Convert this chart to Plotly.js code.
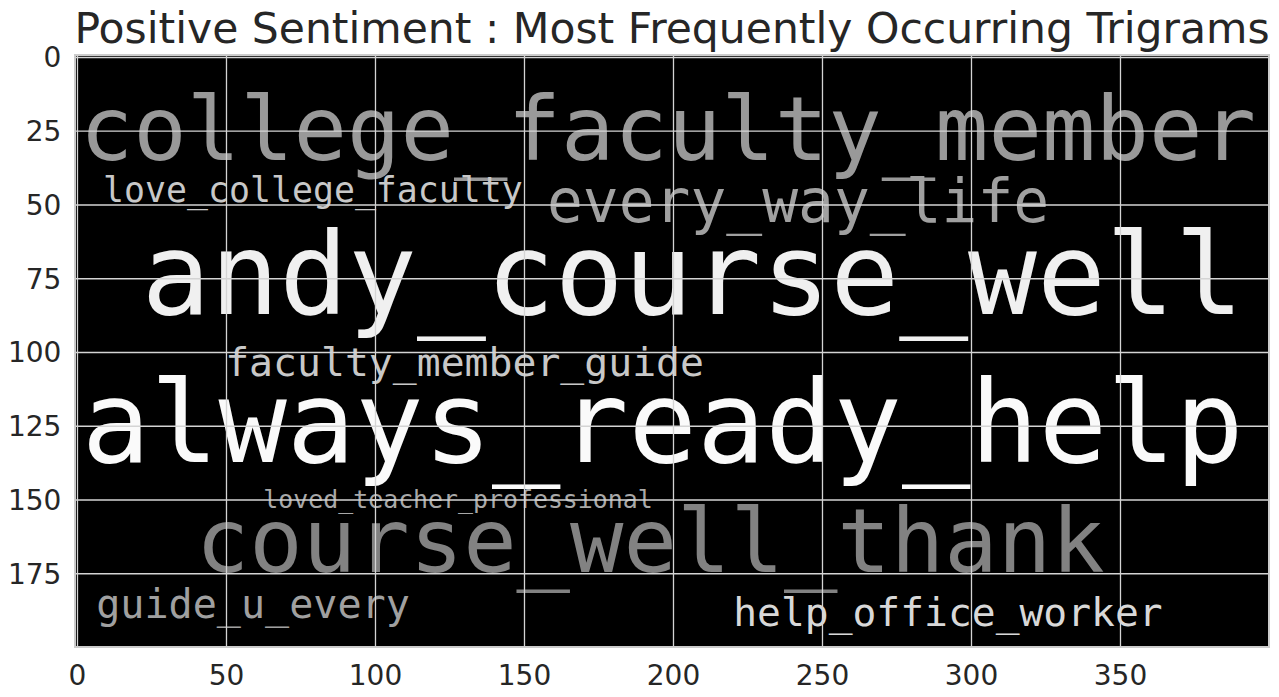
<!DOCTYPE html>
<html>
<head>
<meta charset="utf-8">
<script src="https://cdn.plot.ly/plotly-3.0.1.min.js"></script>
<style>html,body{margin:0;padding:0;background:#fff;}#chart{width:1279px;height:697px;}</style>
</head>
<body>
<div id="chart"></div>
<script>
// Word cloud image is 400 x 200 (image pixel coordinates)
var trigrams = [
  "college_faculty_member",
  "love_college_faculty",
  "every_way_life",
  "andy_course_well",
  "faculty_member_guide",
  "always_ready_help",
  "loved_teacher_professional",
  "course_well_thank",
  "guide_u_every",
  "help_office_worker"
];
// word centre column / row in the image
var wordX = [198.1, 79.0, 241.8, 206.4, 129.9, 196.4, 127.7, 192.2, 58.9, 292.1];
var wordY = [27.1, 46.2, 50.6, 77.2, 104.6, 127.4, 150.7, 166.9, 186.5, 189.3];
// relative frequency (word cloud font size, in image pixels)
var freqWeight = [29.8, 11.7, 20.0, 38.4, 13.35, 38.1, 8.35, 29.8, 13.45, 13.3];
// grey level of each word
var wordShade = [153, 200, 160, 240, 200, 250, 168, 130, 160, 216];

var xTicks = [0, 50, 100, 150, 200, 250, 300, 350];
var yTicks = [0, 25, 50, 75, 100, 125, 150, 175];
var imgW = 400, imgH = 200;

var W = 1279, H = 697;
var margin = {l: 76, r: 11, t: 56, b: 51};
var plotW = W - margin.l - margin.r;
var pxPerUnit = plotW / imgW;

var sizes = freqWeight.map(function(f){ return f * pxPerUnit; });
var colors = wordShade.map(function(g){ return 'rgb(' + g + ',' + g + ',' + g + ')'; });

var trace = {
  type: 'scatter',
  mode: 'text',
  x: wordX,
  y: wordY,
  text: trigrams,
  textposition: 'middle center',
  textfont: {family: 'DejaVu Sans Mono, monospace', size: sizes, color: colors},
  hoverinfo: 'text',
  showlegend: false
};

var shapes = [];
xTicks.forEach(function(v){
  shapes.push({type: 'line', layer: 'above', xref: 'x', yref: 'paper', x0: v, x1: v, y0: 0, y1: 1,
    line: {color: '#d4d4d4', width: 1.3}});
});
yTicks.forEach(function(v){
  shapes.push({type: 'line', layer: 'above', xref: 'paper', yref: 'y', x0: 0, x1: 1, y0: v, y1: v,
    line: {color: '#d4d4d4', width: 1.3}});
});

var layout = {
  width: W, height: H,
  margin: margin,
  paper_bgcolor: '#ffffff',
  plot_bgcolor: '#000000',
  font: {family: 'DejaVu Sans, sans-serif', color: '#262626'},
  title: {
    text: 'Positive Sentiment : Most Frequently Occurring Trigrams',
    font: {family: 'DejaVu Sans, sans-serif', size: 42.5, color: '#262626'},
    x: 0.5, xref: 'paper', xanchor: 'center',
    y: 1, yref: 'paper', yanchor: 'bottom', pad: {b: 13}
  },
  xaxis: {
    range: [-0.5, imgW - 0.5], fixedrange: true,
    tickvals: xTicks, ticktext: xTicks.map(String),
    showgrid: false, zeroline: false,
    showline: true, mirror: true, linecolor: '#cccccc', linewidth: 2,
    ticks: '', ticklabelstandoff: 3,
    tickfont: {size: 28, color: '#262626'}
  },
  yaxis: {
    range: [imgH - 0.5, -0.5], fixedrange: true,
    tickvals: yTicks, ticktext: yTicks.map(String),
    showgrid: false, zeroline: false,
    showline: true, mirror: true, linecolor: '#cccccc', linewidth: 2,
    ticks: '', ticklabelstandoff: 7,
    tickfont: {size: 28, color: '#262626'}
  },
  shapes: shapes
};

Plotly.newPlot('chart', [trace], layout, {displayModeBar: false, staticPlot: true});
</script>
</body>
</html>
